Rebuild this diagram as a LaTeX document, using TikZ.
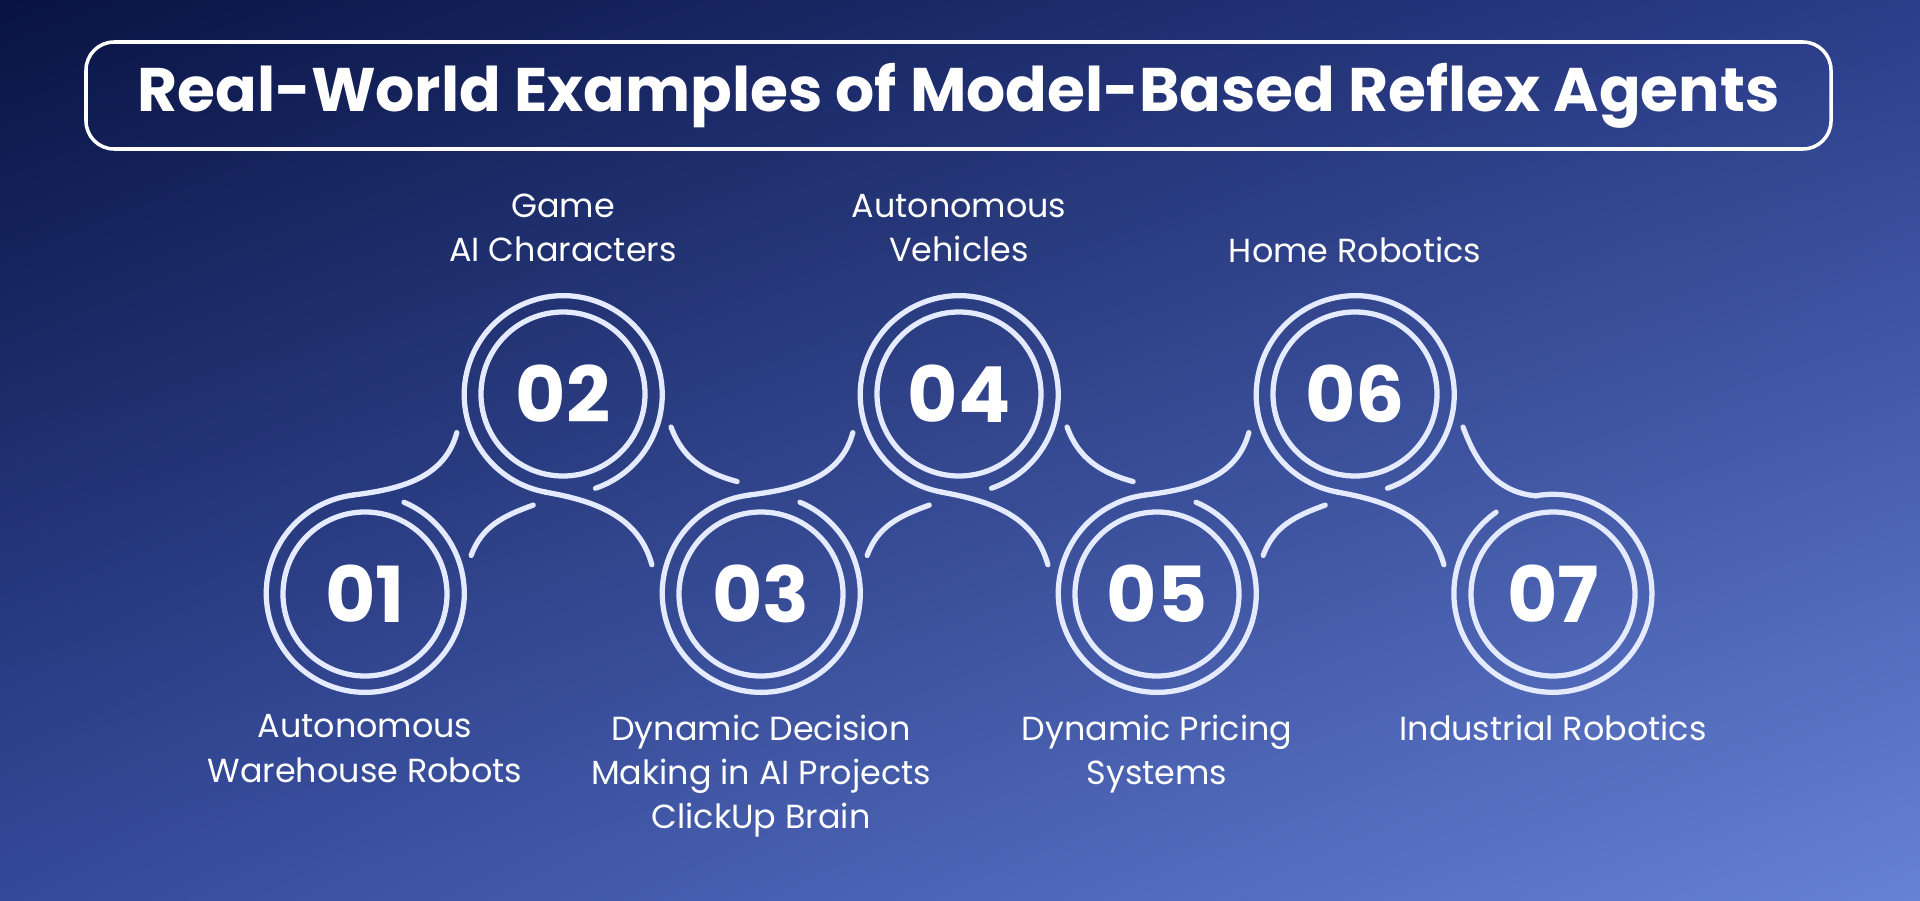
\documentclass[tikz,border=0pt]{standalone}
\usepackage{fontspec}
\setmainfont{Poppins}
\usetikzlibrary{calc,shadings}
\definecolor{ringc}{HTML}{E4EAFF}
\definecolor{bgtl}{HTML}{091443}
\definecolor{bgtr}{HTML}{2B3D8A}
\definecolor{bgbl}{HTML}{34499A}
\definecolor{bgbr}{HTML}{6682D4}

\begin{document}
\begin{tikzpicture}[
  ring/.style={draw=ringc,line width=1.5pt,line cap=round},
  num/.style={circle,minimum size=1.98cm,inner sep=0pt,text=white,
    font=\fontsize{22}{26}\selectfont\bfseries},
  lbl/.style={text=white,align=center,inner sep=0pt,
    font=\fontsize{9.5}{12.6}\selectfont}]
\useasboundingbox (0,0) rectangle (19.2,9);
\shade[upper left=bgtl,upper right=bgtr,lower left=bgbl,lower right=bgbr] (0,0) rectangle (19.2,9);
\node[draw=white,line width=1pt,rounded corners=8pt,minimum width=17.45cm,
  minimum height=1.07cm,text=white] (title) at (9.585,8.045)
  {\fontsize{17.5}{21}\selectfont\bfseries Real-World Examples of Model-Based Reflex Agents};
%% circles
\foreach \i/\x/\y in {1/3.65/3.06,2/5.63/5.06,3/7.61/3.06,4/9.59/5.06,
                      5/11.57/3.06,6/13.55/5.06,7/15.53/3.06} {
  \node[num] (n\i) at (\x,\y) {0\i};
  \draw[ring] (n\i) circle (0.82);
}
%% outer rings
\foreach \i in {1,3,5}
  \draw[ring] (n\i.67) arc[start angle=67,end angle=-263,radius=0.99];
\foreach \i in {2,4,6}
  \draw[ring] (n\i.-71) arc[start angle=-71,end angle=260,radius=0.99];
\draw[ring] (n7.100) arc[start angle=100,end angle=-235,radius=0.99];
%% rising links
\foreach \l/\u in {1/2,3/4,5/6} {
  \draw[ring] (n\l.97) to[out=7,in=-105] ($(n\u)+(200:1.13)$);
  \draw[ring] ($(n\l)+(20:1.13)$) to[out=70,in=200] ($(n\u)+(-105:1.15)$);
}
%% falling links
\foreach \u/\l in {2/3,4/5,6/7}
  \draw[ring] (n\u.260) to[out=-10,in=105] ($(n\l)+(165:1.13)$);
\foreach \u/\l in {2/3,4/5}
  \draw[ring] ($(n\u)+(-17:1.13)$) to[out=-70,in=165] ($(n\l)+(102:1.15)$);
\draw[ring] ($(n6)+(-17:1.13)$) to[out=-70,in=175] (n7.100);
%% labels
\node[lbl] (l2) at (5.63,6.72) {Game\\AI Characters};
\node[lbl] (l4) at (9.59,6.72) {Autonomous\\Vehicles};
\node[lbl] (l6) at (13.55,6.5) {Home Robotics};
\node[lbl,anchor=north] (l1) at (3.65,1.86) {Autonomous\\Warehouse Robots};
\node[lbl,anchor=north] (l3) at (7.61,1.86) {Dynamic Decision\\Making in AI Projects\\ClickUp Brain};
\node[lbl,anchor=north] (l5) at (11.57,1.86) {Dynamic Pricing\\Systems};
\node[lbl,anchor=north] (l7) at (15.53,1.86) {Industrial Robotics};
\end{tikzpicture}
\end{document}
